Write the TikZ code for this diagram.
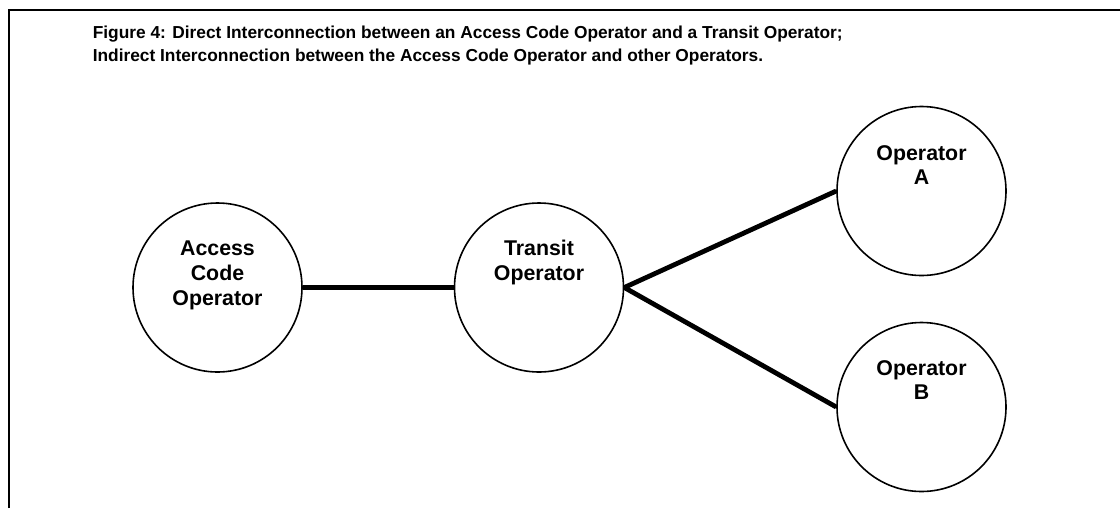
\documentclass[tikz,border=0pt]{standalone}
\usepackage{fontspec}
\setmainfont{Liberation Sans}
\begin{document}
\begin{tikzpicture}[x=0.75pt,y=-0.75pt,
  opcircle/.style={draw, circle, line width=1.2pt, minimum size=126.75pt, inner sep=0pt},
  oplabel/.style={anchor=north, inner sep=0pt, align=center, font=\fontsize{16}{18.6}\selectfont\bfseries},
  link/.style={line width=3.6pt},
  frame/.style={line width=1.6pt}]
\useasboundingbox (0,0) rectangle (1120,508);

% page frame: top rule and left rule
\coordinate (ftl) at (9,10);
\coordinate (ftr) at (1120,10);
\coordinate (fbl) at (9,508);
\draw[frame] (fbl) -- (ftl) -- (ftr);

% caption
\node[anchor=north west, inner sep=0pt, align=left,
      font=\fontsize{13}{17.5}\selectfont\bfseries] (cap) at (92.5,25.5)
  {Figure 4: Direct Interconnection between an Access Code Operator and a Transit Operator;\\
   Indirect Interconnection between the Access Code Operator and other Operators.};

% operators
\node[opcircle] (acc) at (217.5,287.5) {};
\node[opcircle] (tr)  at (539,287.5) {};
\node[opcircle] (opa) at (921.5,191) {};
\node[opcircle] (opb) at (921.5,407) {};

\node[oplabel] (acct) at (217.5,241) {Access\\Code\\Operator};
\node[oplabel] (trt)  at (539,240) {Transit\\Operator};
\node[oplabel] (opat) at (921.5,145) {Operator\\A};
\node[oplabel] (opbt) at (921.5,360) {Operator\\B};

% interconnections
\draw[link] (acc.east) -- (tr.west);
\draw[link] (tr.east) -- (opa.west);
\draw[link] (tr.east) -- (opb.west);
\end{tikzpicture}
\end{document}
